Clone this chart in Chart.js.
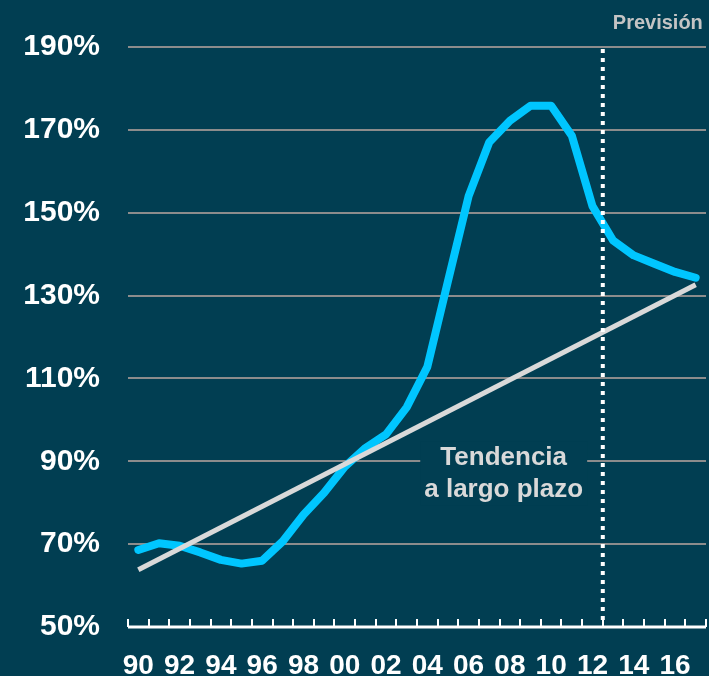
<!DOCTYPE html>
<html>
<head>
<meta charset="utf-8">
<script src="https://cdn.jsdelivr.net/npm/chart.js@4/dist/chart.umd.min.js"></script>
<style>
  html, body { margin: 0; padding: 0; background: #013E52; }
  #wrap { width: 709px; height: 676px; position: relative; }
</style>
</head>
<body>
<div id="wrap"><canvas id="c" width="709" height="676"></canvas></div>
<script>
// ---- data ----
const years = ['1990','1991','1992','1993','1994','1995','1996','1997','1998','1999',
               '2000','2001','2002','2003','2004','2005','2006','2007','2008','2009',
               '2010','2011','2012','2013','2014','2015','2016','2017'];
const xTickLabels = ['90','92','94','96','98','00','02','04','06','08','10','12','14','16'];
const ratioValues = [68.6, 70.2, 69.6, 68.0, 66.2, 65.3, 66.0, 70.7, 77.1, 82.4,
                     88.7, 93.2, 96.5, 103.0, 112.8, 133.5, 154.0, 167.0, 172.2, 175.8,
                     175.8, 168.6, 151.6, 143.3, 139.7, 137.7, 135.7, 134.3];
const trendYears = ['1990', '2017'];
const trendValues = [63.8, 132.6];
const yTicks = [50, 70, 90, 110, 130, 150, 170, 190];
const forecastAfter = '2012';
const forecastLabel = 'Previsión';
const trendLabelLines = ['Tendencia', 'a largo plazo'];
const trendLabelYear = 17.7;   // position along the category axis (index)
const trendLabelValues = [90.8, 83.1];

// ---- style ----
const BG = '#013E52';
const FONT = '"Liberation Sans", Arial, sans-serif';

const decor = {
  id: 'decor',
  beforeDraw(chart) {
    const ctx = chart.ctx;
    ctx.save();
    ctx.fillStyle = BG;
    ctx.fillRect(0, 0, chart.width, chart.height);
    ctx.restore();
  },
  beforeDatasetsDraw(chart) {
    const ctx = chart.ctx, x = chart.scales.x, y = chart.scales.y;
    const i0 = Math.floor(trendLabelYear);
    const cx = x.getPixelForValue(i0) + (trendLabelYear - i0) * (x.getPixelForValue(i0 + 1) - x.getPixelForValue(i0));
    ctx.save();
    ctx.font = 'bold 26px ' + FONT;
    const w = Math.max(...trendLabelLines.map(t => ctx.measureText(t).width));
    const yTop = y.getPixelForValue(trendLabelValues[0]) - 16;
    const yBot = y.getPixelForValue(trendLabelValues[1]) + 16;
    ctx.fillStyle = BG;
    ctx.fillRect(cx - w / 2 - 4, yTop, w + 8, yBot - yTop);
    ctx.fillStyle = '#D9D9D9';
    ctx.textAlign = 'center';
    ctx.textBaseline = 'middle';
    trendLabelLines.forEach((t, k) => ctx.fillText(t, cx, y.getPixelForValue(trendLabelValues[k])));
    ctx.restore();
  },
  afterDatasetsDraw(chart) {
    const ctx = chart.ctx, x = chart.scales.x, y = chart.scales.y, a = chart.chartArea;
    const step = x.getPixelForValue(1) - x.getPixelForValue(0);
    ctx.save();
    ctx.strokeStyle = '#FFFFFF';
    ctx.lineWidth = 3;
    ctx.lineCap = 'butt';
    ctx.beginPath();
    ctx.moveTo(x.getPixelForValue(0) - step / 2, a.bottom);
    ctx.lineTo(x.getPixelForValue(years.length - 1) + step / 2, a.bottom);
    ctx.stroke();
    ctx.lineWidth = 2;
    for (let i = 0; i <= years.length; i++) {
      const px = Math.round(x.getPixelForValue(0) - step / 2 + i * step);
      ctx.beginPath();
      ctx.moveTo(px, a.bottom);
      ctx.lineTo(px, a.bottom - 8);
      ctx.stroke();
    }
    const fi = years.indexOf(forecastAfter);
    const fx = (x.getPixelForValue(fi) + x.getPixelForValue(fi + 1)) / 2;
    ctx.setLineDash([4, 5]);
    ctx.lineWidth = 4;
    ctx.beginPath();
    ctx.moveTo(fx, a.top + 2);
    ctx.lineTo(fx, a.bottom - 2);
    ctx.stroke();
    ctx.setLineDash([]);
    ctx.fillStyle = '#C4C4C4';
    ctx.font = 'bold 20px ' + FONT;
    ctx.textAlign = 'left';
    ctx.textBaseline = 'middle';
    ctx.fillText(forecastLabel, fx + 10, a.top - 24);
    ctx.restore();
  }
};

new Chart(document.getElementById('c'), {
  type: 'line',
  data: {
    labels: years,
    datasets: [
      {
        label: 'Ratio',
        data: ratioValues,
        borderColor: '#00C6FF',
        borderWidth: 8,
        borderCapStyle: 'round',
        borderJoinStyle: 'round',
        pointRadius: 0,
        tension: 0,
        order: 2
      },
      {
        label: 'Tendencia',
        data: trendYears.map((yr, i) => ({ x: yr, y: trendValues[i] })),
        borderColor: '#D9D9D9',
        borderWidth: 5,
        borderCapStyle: 'butt',
        pointRadius: 0,
        tension: 0,
        order: 1
      }
    ]
  },
  options: {
    responsive: false,
    animation: false,
    devicePixelRatio: 1,
    layout: { padding: { top: 47, right: 3, left: 0, bottom: 0 } },
    plugins: { legend: { display: false }, tooltip: { enabled: false } },
    scales: {
      x: {
        type: 'category',
        offset: true,
        grid: { display: false, drawTicks: false },
        border: { display: false },
        ticks: {
          autoSkip: false,
          maxRotation: 0,
          padding: 22,
          color: '#FFFFFF',
          font: { family: FONT, size: 28, weight: 'bold' },
          callback: (v, i) => (i % 2 === 0 ? xTickLabels[i / 2] : '')
        },
        afterFit: s => { s.height = 49; s.paddingLeft = 0; s.paddingRight = 0; }
      },
      y: {
        min: yTicks[0],
        max: yTicks[yTicks.length - 1],
        afterBuildTicks: s => { s.ticks = yTicks.map(v => ({ value: v })); },
        grid: {
          color: ctx => (ctx.tick && ctx.tick.value === yTicks[0] ? 'rgba(0,0,0,0)' : '#8C8C8C'),
          lineWidth: 2,
          drawTicks: false
        },
        border: { display: false },
        ticks: {
          padding: 28,
          color: '#FFFFFF',
          font: { family: FONT, size: 30, weight: 'bold' },
          callback: v => v + '%'
        },
        afterFit: s => { s.width = 128; s.paddingTop = 0; s.paddingBottom = 0; }
      }
    }
  },
  plugins: [decor]
});
</script>
</body>
</html>
